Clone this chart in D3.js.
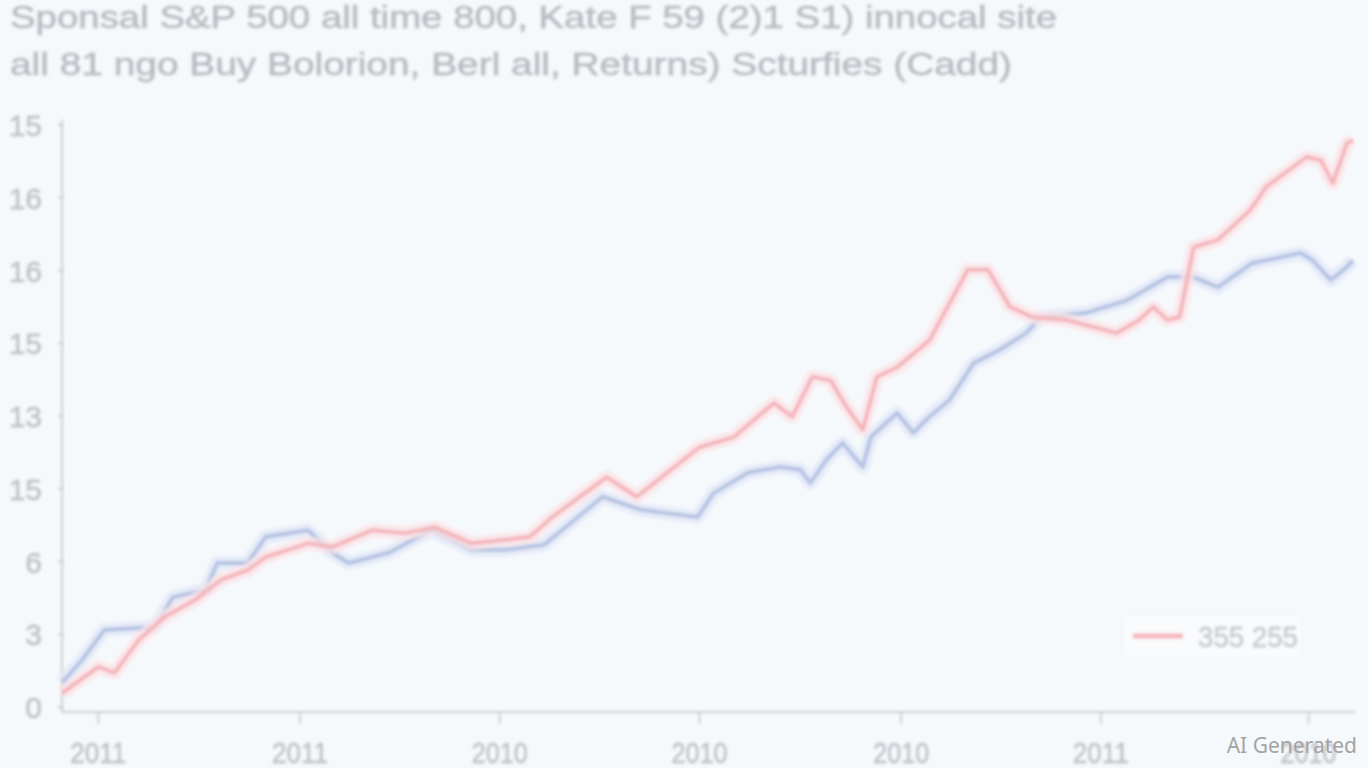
<!DOCTYPE html>
<html><head><meta charset="utf-8">
<script src="https://cdn.jsdelivr.net/npm/d3@7/dist/d3.min.js"></script>
<style>
html,body{margin:0;padding:0;background:#f6f9fc;}
svg{display:block;}
</style></head>
<body>
<svg id="chart" width="1368" height="768"></svg>
<script>
const titleLines = ["Sponsal S&P 500 all time 800, Kate F 59 (2)1 S1) innocal site",
                    "all 81 ngo Buy Bolorion, Berl all, Returns) Scturfies (Cadd)"];
const yTickLabels = ["0","3","6","15","13","15","16","16","15"];
const xTickLabels = ["2011","2011","2010","2010","2010","2011","2010"];
const xTickValues = [0.18,1.18,2.17,3.16,4.16,5.15,6.18];
const legendLabel = "355 255";

const redT = [0,0.18,0.26,0.38,0.51,0.66,0.79,0.92,1.01,1.22,1.34,1.54,1.70,1.85,2.03,2.20,2.32,2.43,2.70,2.85,3.00,3.16,3.33,3.53,3.62,3.72,3.81,3.89,3.97,4.04,4.14,4.30,4.49,4.59,4.70,4.81,4.98,5.23,5.34,5.41,5.48,5.54,5.61,5.73,5.89,5.97,6.17,6.24,6.30,6.37,6.40];
const redV = [0.19,0.55,0.47,0.92,1.24,1.47,1.75,1.88,2.06,2.25,2.20,2.43,2.39,2.47,2.25,2.30,2.34,2.61,3.16,2.89,3.22,3.57,3.71,4.18,3.99,4.54,4.49,4.12,3.81,4.54,4.67,5.04,6.01,6.01,5.50,5.36,5.32,5.14,5.32,5.50,5.32,5.36,6.32,6.42,6.83,7.15,7.56,7.52,7.20,7.75,7.79];
const blueT = [0,0.10,0.21,0.46,0.55,0.71,0.77,0.92,1.01,1.22,1.34,1.42,1.62,1.83,2.03,2.20,2.39,2.57,2.68,2.87,3.15,3.23,3.40,3.56,3.66,3.71,3.79,3.87,3.97,4.01,4.14,4.22,4.30,4.40,4.52,4.65,4.78,4.85,5.08,5.28,5.48,5.61,5.73,5.90,6.14,6.20,6.29,6.37,6.40];
const blueV = [0.33,0.65,1.06,1.10,1.51,1.61,1.98,1.98,2.34,2.43,2.12,1.98,2.12,2.43,2.16,2.16,2.23,2.64,2.89,2.71,2.61,2.94,3.22,3.30,3.26,3.08,3.40,3.63,3.30,3.71,4.04,3.77,3.99,4.22,4.73,4.91,5.14,5.36,5.42,5.59,5.91,5.91,5.77,6.10,6.24,6.14,5.87,6.05,6.14];

(function(){
const svg = d3.select("#chart");
const defs = svg.append("defs");
defs.append("filter").attr("id","blur").attr("x","-5%").attr("y","-5%").attr("width","110%").attr("height","110%")
  .append("feGaussianBlur").attr("stdDeviation",1.8);
defs.append("filter").attr("id","blurT").attr("x","-5%").attr("y","-20%").attr("width","110%").attr("height","140%")
  .append("feGaussianBlur").attr("stdDeviation",1.7);

const mLeft = 62, mRight = 1355, mTop = 125, mBottom = 707, axisY = 712;
const x = d3.scaleLinear().domain([0, 6.41]).range([mLeft, mRight]);
const y = d3.scaleLinear().domain([0, 8]).range([mBottom, mTop]);

const g = svg.append("g").attr("filter","url(#blur)");
const tg = svg.append("g").attr("filter","url(#blurT)");

tg.selectAll("text.title").data(titleLines).join("text")
  .attr("x",10).attr("y",(d,i)=>28+i*47)
  .attr("font-family","Liberation Sans, Arial, sans-serif")
  .attr("font-size",31)
  .attr("textLength",(d,i)=> i===0?1047:1002)
  .attr("lengthAdjust","spacingAndGlyphs")
  .attr("fill","#b6b9bf")
  .attr("stroke","#c3c6cb").attr("stroke-width",0.8)
  .text(d=>d);

g.append("line").attr("x1",mLeft).attr("x2",mLeft).attr("y1",120).attr("y2",axisY)
  .attr("stroke","#cbced4").attr("stroke-width",2);
g.append("line").attr("x1",mLeft).attr("x2",mRight).attr("y1",axisY).attr("y2",axisY)
  .attr("stroke","#cbced4").attr("stroke-width",2);

const yTicks = d3.range(yTickLabels.length);
g.selectAll("line.yt").data(yTicks).join("line")
  .attr("x1",mLeft-4).attr("x2",mLeft+2).attr("y1",d=>y(d)).attr("y2",d=>y(d))
  .attr("stroke","#cbced4").attr("stroke-width",2);
tg.selectAll("text.yl").data(yTicks).join("text")
  .attr("x",42).attr("y",d=>y(d)+11)
  .attr("text-anchor","end")
  .attr("font-family","Liberation Sans Narrow, Liberation Sans, Arial, sans-serif")
  .attr("font-size",30)
  .attr("fill","#bcbfc5")
  .attr("stroke","#c6c9ce").attr("stroke-width",0.8)
  .text(d=>yTickLabels[d]);

g.selectAll("line.xt").data(xTickValues).join("line")
  .attr("x1",d=>x(d)).attr("x2",d=>x(d)).attr("y1",axisY).attr("y2",axisY+12)
  .attr("stroke","#cbced4").attr("stroke-width",2);
tg.selectAll("text.xl").data(xTickValues).join("text")
  .attr("x",d=>x(d)).attr("y",763)
  .attr("text-anchor","middle")
  .attr("font-family","Liberation Sans Narrow, Liberation Sans, Arial, sans-serif")
  .attr("font-size",29)
  .attr("textLength",56).attr("lengthAdjust","spacingAndGlyphs")
  .attr("fill","#bcbfc5")
  .attr("stroke","#c6c9ce").attr("stroke-width",0.8)
  .text((d,i)=>xTickLabels[i]);

const line = d3.line().x(d=>x(d[0])).y(d=>y(d[1])).curve(d3.curveLinear);
const red = redT.map((t,i)=>[t,redV[i]]);
const blue = blueT.map((t,i)=>[t,blueV[i]]);
[[blue,"#dfe7f6","#b3c1e2"],[red,"#fce3e5","#f4b3b9"]].forEach(([data,glow,col])=>{
  g.append("path").datum(data).attr("d",line).attr("fill","none")
    .attr("stroke",glow).attr("stroke-width",14).attr("stroke-linejoin","round").attr("opacity",0.7);
  g.append("path").datum(data).attr("d",line).attr("fill","none")
    .attr("stroke",col).attr("stroke-width",4).attr("stroke-linejoin","round");
});

g.append("rect").attr("x",1122).attr("y",614).attr("width",180).attr("height",44).attr("rx",4)
  .attr("fill","#f9fbfd").attr("stroke","#eef1f5");
g.append("line").attr("x1",1133).attr("x2",1183).attr("y1",636).attr("y2",636)
  .attr("stroke","#f4b3b9").attr("stroke-width",5);
tg.append("text").attr("x",1198).attr("y",647)
  .attr("font-family","Liberation Sans, Arial, sans-serif").attr("font-size",30)
  .attr("textLength",100).attr("lengthAdjust","spacingAndGlyphs")
  .attr("fill","#c6c9ce").attr("stroke","#cdd0d4").attr("stroke-width",0.8).text(legendLabel);

svg.append("text").attr("x",1357).attr("y",753).attr("text-anchor","end")
  .attr("font-family","Noto Sans, Open Sans, sans-serif").attr("font-size",21)
  .attr("fill","#a3a3a3").text("AI Generated");
})();
</script>
</body></html>
